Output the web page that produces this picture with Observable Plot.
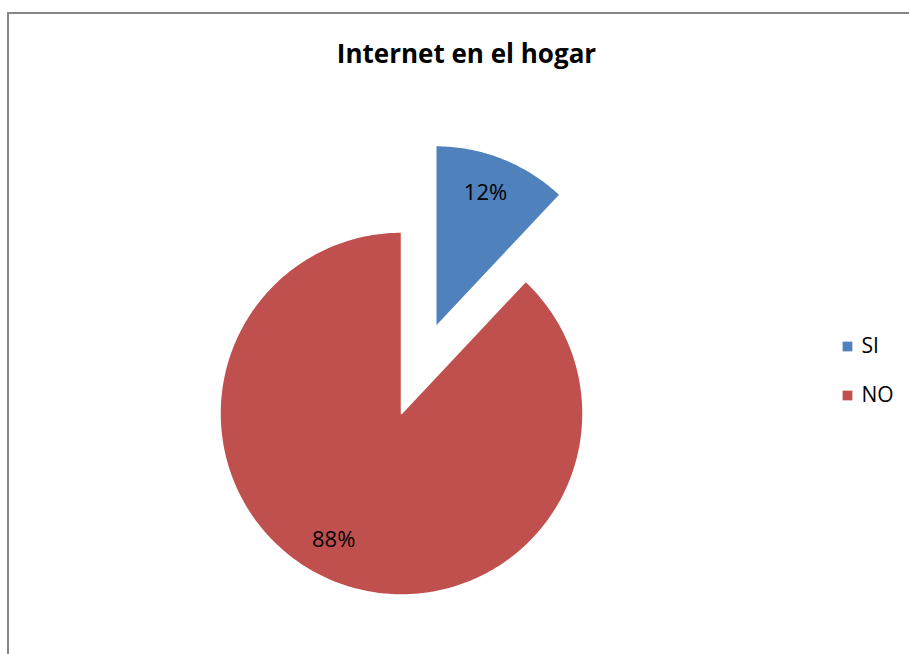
<!DOCTYPE html>
<html>
<head>
<meta charset="utf-8">
<script src="https://cdn.jsdelivr.net/npm/d3@7"></script>
<script src="https://cdn.jsdelivr.net/npm/@observablehq/plot@0.6"></script>
<style>
  html, body { margin: 0; padding: 0; background: #fff; }
  #wrap { position: relative; width: 909px; height: 654px; overflow: hidden; }
  #frame { position: absolute; left: 7px; top: 12px; width: 910px; height: 650px;
           border-top: 2px solid #878787; border-left: 2px solid #878787; pointer-events: none; }
</style>
</head>
<body>
<div id="wrap"><div id="frame"></div></div>
<script>
const title = "Internet en el hogar";
const categories = ["SI", "NO"];
const values = [12, 88];
const labels = ["12%", "88%"];
const colors = ["#4F81BD", "#C0504D"];

// layout
const W = 909, H = 654;
const cx = 401, cy = 413, R = 181.5;
const explode = {SI: 93, NO: 0};
const labelNudge = {SI: [-3, -1], NO: [-15, -7]};
const font = "'Open Sans', 'Liberation Sans', sans-serif";

const pie = d3.pie().sort(null).value(d => d.value)(categories.map((c, i) => ({cat: c, value: values[i], label: labels[i]})));

const pts = [];
const labelPts = [];
for (const s of pie) {
  const mid = (s.startAngle + s.endAngle) / 2;
  const ox = cx + explode[s.data.cat] * Math.sin(mid);
  const oy = cy - explode[s.data.cat] * Math.cos(mid);
  pts.push({cat: s.data.cat, x: ox, y: oy});
  const n = Math.max(8, Math.ceil((s.endAngle - s.startAngle) * 80));
  for (let k = 0; k <= n; k++) {
    const a = s.startAngle + (s.endAngle - s.startAngle) * k / n;
    pts.push({cat: s.data.cat, x: ox + R * Math.sin(a), y: oy - R * Math.cos(a)});
  }
  const [nx, ny] = labelNudge[s.data.cat];
  labelPts.push({cat: s.data.cat, label: s.data.label,
    x: ox + 0.79 * R * Math.sin(mid) + nx, y: oy - 0.79 * R * Math.cos(mid) + ny});
}

const chart = Plot.plot({
  width: W, height: H,
  margin: 0,
  x: {domain: [0, W], range: [0, W], axis: null},
  y: {domain: [0, H], range: [0, H], axis: null},
  color: {domain: categories, range: colors},
  style: {fontFamily: font, background: "transparent"},
  marks: [
    Plot.line(pts, {x: "x", y: "y", z: "cat", fill: "cat", stroke: "#ffffff", strokeWidth: 1.5, curve: "linear-closed"}),
    Plot.text(labelPts, {x: "x", y: "y", text: "label", fontSize: 22, fill: "#000", textAnchor: "middle"}),
    Plot.text([title], {x: () => 466, y: () => 54, text: d => d, fontSize: 26, fontWeight: "bold", fill: "#000"}),
    Plot.dot(categories, {x: () => 847, y: (d, i) => 346 + i * 49, fill: d => d, symbol: "square", r: 5.5, stroke: null}),
    Plot.text(categories, {x: () => 861, y: (d, i) => 346 + i * 49, text: d => d, fontSize: 21, textAnchor: "start", fill: "#000"})
  ]
});
document.getElementById("wrap").insertBefore(chart, document.getElementById("frame"));
</script>
</body>
</html>
